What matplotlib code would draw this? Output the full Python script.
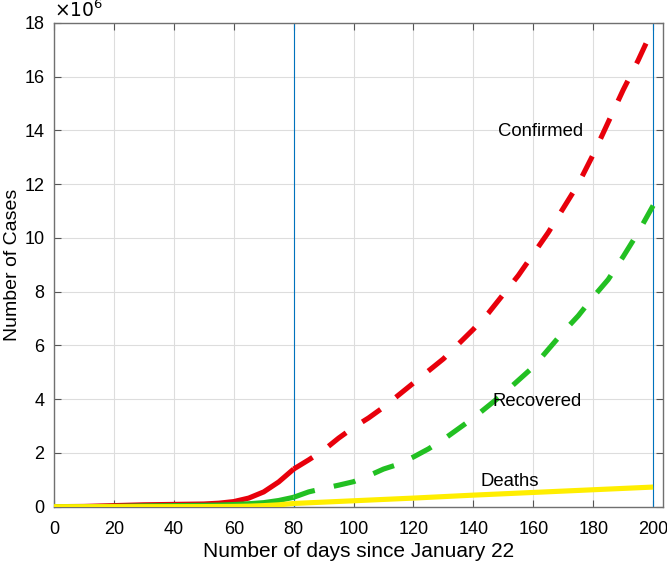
import matplotlib
matplotlib.use("Agg")
import matplotlib.pyplot as plt
import numpy as np

plt.rcParams['font.family'] = ['Liberation Sans', 'DejaVu Sans']
plt.rcParams['lines.scale_dashes'] = False

# Observed (solid) part, days 0-80, values in millions
obs_days = [0, 10, 20, 30, 40, 50, 55, 60, 65, 70, 75, 80]
obs_confirmed = [0.0006, 0.01, 0.04, 0.07, 0.085, 0.10, 0.13, 0.19, 0.32, 0.55, 0.92, 1.40]
obs_recovered = [0.0, 0.002, 0.01, 0.03, 0.04, 0.05, 0.06, 0.08, 0.11, 0.15, 0.23, 0.35]

# Predicted (dashed) part, days 80-200, values in millions
pred_days = [80, 85, 90, 95, 100, 105, 110, 115, 120, 125, 130, 135, 140, 145, 150,
             155, 160, 165, 170, 175, 180, 185, 190, 195, 200]
pred_confirmed = [1.40, 1.74, 2.10, 2.55, 2.95, 3.30, 3.70, 4.15, 4.60, 5.05, 5.50, 6.05,
                  6.60, 7.20, 7.90, 8.60, 9.40, 10.20, 11.10, 12.00, 13.10, 14.30, 15.50,
                  16.60, 17.80]
pred_recovered = [0.35, 0.55, 0.68, 0.80, 0.93, 1.15, 1.40, 1.58, 1.85, 2.15, 2.50, 2.90,
                  3.30, 3.75, 4.20, 4.70, 5.20, 5.85, 6.50, 7.10, 7.80, 8.45, 9.30, 10.20,
                  11.20]

# Deaths (solid throughout)
death_days = [0, 20, 40, 50, 60, 65, 70, 75, 80, 100, 120, 140, 160, 180, 200]
deaths = [0.0, 0.0005, 0.002, 0.004, 0.01, 0.02, 0.04, 0.07, 0.12, 0.22, 0.32, 0.43,
          0.53, 0.63, 0.73]

vlines = [80, 200]
xticks = list(range(0, 201, 20))
yticks = list(range(0, 19, 2))

fig = plt.figure(figsize=(6.67, 5.65), dpi=100)
ax = fig.add_axes([0.081, 0.1032, 0.913, 0.8565])

red = '#e8000b'
green = '#22c022'
yellow = '#ffee00'
LW = 3.7

ax.plot(obs_days, obs_confirmed, color=red, lw=LW, solid_capstyle='butt', zorder=3)
ax.plot(pred_days, pred_confirmed, color=red, lw=LW, dashes=(16, 14),
        dash_capstyle='butt', zorder=3)
ax.plot(obs_days, obs_recovered, color=green, lw=LW, solid_capstyle='butt', zorder=3)
ax.plot(pred_days, pred_recovered, color=green, lw=LW, dashes=(16, 14),
        dash_capstyle='butt', zorder=3)
ax.plot(death_days, deaths, color=yellow, lw=LW, solid_capstyle='butt', zorder=4)

for v in vlines:
    ax.axvline(v, color='#0072BD', lw=0.8, zorder=2)

ax.text(162.4, 13.94, 'Confirmed', fontsize=13.3, ha='center', va='center')
ax.text(161.3, 3.93, 'Recovered', fontsize=13.3, ha='center', va='center')
ax.text(152.3, 0.94, 'Deaths', fontsize=13.3, ha='center', va='center')

ax.set_xlim(0, 203.3)
ax.set_ylim(0, 18)
ax.set_xticks(xticks)
ax.set_yticks(yticks)
ax.tick_params(direction='in', top=True, right=True, labelsize=13,
               length=5, width=0.8, color='#555555')
ax.tick_params(axis='x', pad=10)
ax.tick_params(axis='y', pad=7)
ax.grid(True, color='#dddddd', lw=0.8)
ax.set_axisbelow(True)
for s in ax.spines.values():
    s.set_color('#707070')
    s.set_linewidth(1.0)

ax.set_xlabel('Number of days since January 22', fontsize=15, labelpad=3)
ax.set_ylabel('Number of Cases', fontsize=14, labelpad=2)
ax.text(0.0, 1.003, r'$\times10^{6}$', transform=ax.transAxes, fontsize=13.5,
        ha='left', va='bottom', math_fontfamily='dejavusans')

fig.savefig('out.png', dpi=100)
